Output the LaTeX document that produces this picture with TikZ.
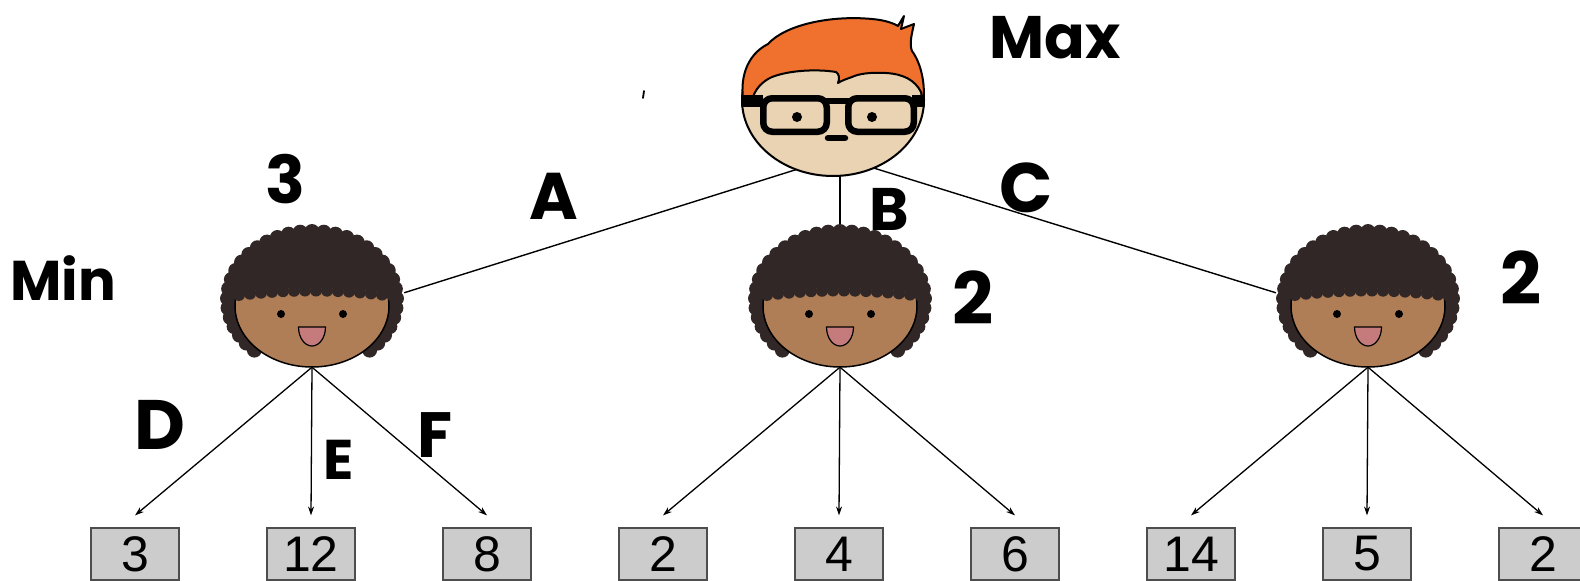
\documentclass[tikz,border=0pt]{standalone}
\usepackage{fontspec}
\setmainfont{Liberation Sans}
\newfontfamily\handfont{Poppins}
\usetikzlibrary{shapes.geometric,arrows.meta}

\definecolor{afro}{HTML}{302726}
\definecolor{minskin}{HTML}{AF7E56}
\definecolor{mouthc}{HTML}{C57B7B}
\definecolor{maxskin}{HTML}{E9D3B2}
\definecolor{maxhair}{HTML}{F0702E}
\definecolor{boxfill}{HTML}{CCCCCC}
\definecolor{boxline}{HTML}{4D4D4D}

\begin{document}
\begin{tikzpicture}[x=1pt,y=-1pt,
  edge/.style={line width=1.4pt},
  arr/.style={line width=1.3pt,-{Stealth[length=9pt,width=6pt]}},
  leaf/.style={draw=boxline,fill=boxfill,line width=1.2pt,minimum width=88pt,
    minimum height=52pt,inner sep=0pt,font=\fontsize{50}{50}\selectfont},
  headnode/.style={ellipse,inner sep=0pt,draw=none},
  hand/.style={font=\handfont\bfseries\fontsize{#1}{#1}\selectfont,inner sep=0pt},
  minhead/.pic={
    % curly hair behind the face
    \fill[afro] (133:84.5 and 68.5) arc[start angle=133,end angle=407,x radius=84.5,y radius=68.5] -- cycle;
    \foreach \i [evaluate=\i as \t using 133+\i*274/34] in {0,...,34}
      \fill[afro] (\t:84.5 and 68.5) circle[radius=7.5];
    % face
    \filldraw[fill=minskin,line width=1.5pt] (0,6) ellipse[x radius=77,y radius=61];
    % fringe over the forehead
    \begin{scope}
      \clip (0,6) ellipse[x radius=79.5,y radius=63.5];
      \fill[afro] (-90,-80) -- (90,-80) -- plot[domain=90:-90,samples=19] (\x,{-12+\x*\x/1200}) -- cycle;
      \foreach \x in {-84,-73,...,84}
        \fill[afro] (\x,{-9.5+\x*\x/1200}) circle[radius=6];
    \end{scope}
    % eyes and mouth
    \fill (-31,14) circle[radius=4];
    \fill (31,14) circle[radius=4];
    \filldraw[fill=mouthc,line width=1.2pt] (-13.5,27) -- (13.5,27)
      arc[start angle=0,end angle=180,x radius=13.5,y radius=19] -- cycle;
  }
]
\clip (0,0) rectangle (1580,581);
\useasboundingbox (0,0) rectangle (1580,581);

% anchors for the heads
\node[headnode,minimum width=182pt,minimum height=152pt] (max) at (833,100) {};
\node[headnode,minimum width=184pt,minimum height=142pt] (m1) at (312,296) {};
\node[headnode,minimum width=184pt,minimum height=142pt] (m2) at (840,296) {};
\node[headnode,minimum width=184pt,minimum height=142pt] (m3) at (1368,296) {};

% leaves
\foreach \i/\v in {1/3,2/12,3/8,4/2,5/4,6/6,7/14,8/5,9/2}
  \node[leaf] (l\i) at ({135+176*(\i-1)},554) {\v};

% max to min edges
\draw[edge] (max.242) -- (m1.2);
\draw[edge] (m2.north) -- (m2.north |- max.south);
\draw[edge] (max.301) -- (m3.178);

% min to leaf arrows
\foreach \m/\a/\b/\c in {m1/l1/l2/l3,m2/l4/l5/l6,m3/l7/l8/l9}{
  \draw[arr] (\m.south) -- ([yshift=12pt]\a.north);
  \draw[arr] (\m.south) -- ([yshift=12pt]\b.north);
  \draw[arr] (\m.south) -- ([yshift=12pt]\c.north);
}

% min players
\pic at (312,300) {minhead};
\pic at (840,300) {minhead};
\pic at (1368,300) {minhead};

% max player
\filldraw[fill=maxskin,line width=2pt] (833,100) ellipse[x radius=91,y radius=76];
\filldraw[fill=maxhair,line width=2pt,line join=round]
  (744,104) .. controls (739,80) and (746,55) .. (768,44)
  .. controls (785,25) and (830,15) .. (872,19)
  .. controls (884,20) and (893,23) .. (898,26)
  -- (904,16) -- (901,29) -- (914,24)
  .. controls (912,33) and (909,44) .. (912,51)
  .. controls (921,63) and (926,85) .. (923,104)
  -- (921,92)
  .. controls (915,80) and (903,74) .. (886,73)
  .. controls (870,72) and (858,74) .. (852,77)
  .. controls (846,79) and (841,81) .. (838,83)
  .. controls (840,78) and (839,74) .. (836,72)
  .. controls (818,69) and (790,70) .. (772,77)
  .. controls (763,81) and (756,88) .. (753,97)
  -- (752,104) -- cycle;
\begin{scope}
  \clip (833,100) ellipse[x radius=92,y radius=77];
  \fill (740,95) rectangle (763,107);
  \fill (912,95) rectangle (927,107);
\end{scope}
\filldraw[fill=maxskin,line width=6.5pt,rounded corners=9pt] (763.25,98.25) rectangle (826.75,131.75);
\filldraw[fill=maxskin,line width=6.5pt,rounded corners=9pt] (848.25,98.25) rectangle (913.75,131.75);
\draw[line width=6pt] (826,101) -- (849,101);
\fill (797,117) circle[radius=5];
\fill (872,117) circle[radius=5];
\draw[line width=6.5pt,line cap=round] (828,138) -- (845,138);

% handwritten labels
\node[hand=60] (tmax) at (1055,38) {Max};
\node[hand=56] (tmin) at (63,278) {Min};
\node[hand=66] (v1) at (285,179) {3};
\node[hand=72] (v2) at (973,298) {2};
\node[hand=72] (v3) at (1521,278) {2};
\node[hand=66] (ta) at (554,196) {A};
\node[hand=60] (tb) at (889,209) {B};
\node[hand=70] (tc) at (1026,188) {C};
\node[hand=70] (td) at (160,425) {D};
\node[hand=56] (te) at (339,460) {E};
\node[hand=64] (tf) at (435,435) {F};
\draw[line width=1.8pt,line cap=round] (644,91) -- (643,98);
\end{tikzpicture}
\end{document}
